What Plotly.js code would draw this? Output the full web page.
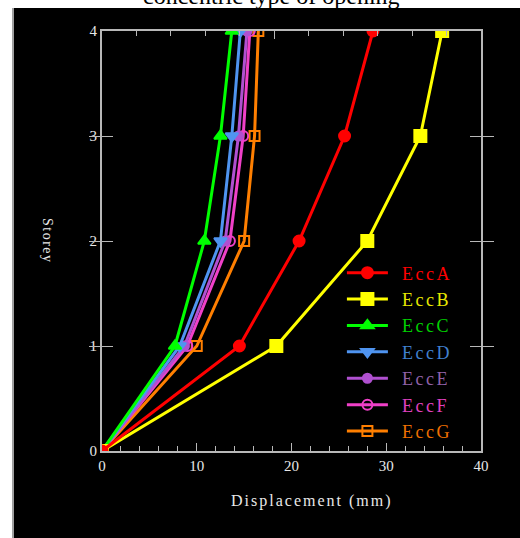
<!DOCTYPE html>
<html><head><meta charset="utf-8">
<script src="https://cdn.plot.ly/plotly-3.0.1.min.js"></script>
<style>html,body{margin:0;padding:0;background:#fff}</style>
</head><body><div id="chart" style="width:520px;height:538px"></div>
<script>
const storey = [0, 1, 2, 3, 4];
const names = ["EccA", "EccB", "EccC", "EccD", "EccE", "EccF", "EccG"];
const eccA = [0, 14.5, 20.8, 25.6, 28.6];
const eccB = [0, 18.4, 28.0, 33.6, 35.9];
const eccC = [0, 7.7, 10.8, 12.5, 13.7];
const eccD = [0, 8.2, 12.5, 13.7, 14.6];
const eccE = [0, 8.7, 13.0, 14.4, 15.3];
const eccF = [0, 9.0, 13.5, 14.9, 15.6];
const eccG = [0, 10.0, 15.0, 16.1, 16.5];
const xTicks = [0, 10, 20, 30, 40];
const yTicks = [0, 1, 2, 3, 4];

const series = [eccA, eccB, eccC, eccD, eccE, eccF, eccG];
const lineColors = ["#ff0000", "#ffff00", "#00ff00", "#4f94f0", "#b050d0", "#f040c8", "#ff7f00"];
const textColors = ["#ff0000", "#e8e800", "#00d000", "#4080d0", "#9060a8", "#e040c0", "#f07000"];
const symbols = ["circle", "square", "triangle-up", "triangle-down", "circle", "circle-open", "square-open"];
const sizes = [11, 12, 11, 11, 9, 10, 10];

const traces = [];
for (let i = series.length - 1; i >= 0; i--) {
  traces.push({
    x: series[i], y: storey, type: "scatter", mode: "lines+markers",
    name: '&nbsp;&nbsp;<span style="color:' + textColors[i] + ';letter-spacing:2.5px">' + names[i] + '</span>',
    line: {color: lineColors[i], width: 3},
    marker: {symbol: symbols[i], size: sizes[i], color: lineColors[i], line: {color: lineColors[i], width: 2}}
  });
}

const axisGray = "#b8b8b8";
const layout = {
  width: 520, height: 538,
  margin: {l: 102, r: 39, t: 31, b: 87},
  paper_bgcolor: "#ffffff", plot_bgcolor: "#000000",
  showlegend: true,
  legend: {x: 0.633, y: 0.468, xanchor: "left", yanchor: "top", traceorder: "reversed",
    bgcolor: "rgba(0,0,0,0)", font: {family: "Liberation Serif", size: 18}, itemwidth: 41},
  xaxis: {range: [0, 40], tickvals: xTicks, ticktext: xTicks.map(String), ticks: "inside", ticklen: 8,
    tickcolor: axisGray, showline: true, linecolor: axisGray, linewidth: 2, showgrid: false, zeroline: false,
    minor: {dtick: 2, ticks: "inside", ticklen: 5, tickcolor: axisGray, showgrid: false},
    tickfont: {family: "Liberation Serif", size: 15, color: "#e8e8e8"}},
  xaxis2: {range: [0, 11], overlaying: "x", side: "top", tickvals: [5], ticks: "inside", ticklen: 8,
    tickcolor: axisGray, showline: true, linecolor: axisGray, linewidth: 2, showticklabels: false, showgrid: false, zeroline: false,
    minor: {tickvals: [1, 2, 3, 4, 6, 7, 8, 9, 10], ticks: "inside", ticklen: 5, tickcolor: axisGray, showgrid: false}},
  yaxis: {range: [0, 4], tickvals: yTicks, ticktext: yTicks.map(String), ticks: "inside", ticklen: 11,
    tickcolor: axisGray, showline: true, linecolor: axisGray, linewidth: 2, mirror: "allticks", showgrid: false, zeroline: false,
    tickfont: {family: "Liberation Serif", size: 15, color: "#e8e8e8"}},
  shapes: [
    {type: "rect", xref: "paper", yref: "paper", x0: -89/379, x1: 1.2, y0: -0.3, y1: 1 + 23/420,
      fillcolor: "#000000", line: {width: 0}, layer: "below"},
    {type: "line", xref: "paper", yref: "paper", x0: -89/379, x1: -89/379, y0: -0.3, y1: 1 + 23/420,
      line: {color: "#a0a0a0", width: 2}, layer: "below"}
  ],
  annotations: [
    {text: "concentric type of opening", xref: "paper", yref: "paper", x: (271-102)/379, y: 1 + 20/420,
      xanchor: "center", yanchor: "bottom", showarrow: false,
      font: {family: "Liberation Serif", size: 24, color: "#000000"}},
    {text: '<span style="letter-spacing:2px">Displacement (mm)</span>', xref: "paper", yref: "paper", x: (312-102)/379, y: -(501-451)/420,
      xanchor: "center", yanchor: "middle", showarrow: false,
      font: {family: "Liberation Serif", size: 16, color: "#e8e8e8"}},
    {text: '<span style="letter-spacing:1.5px">Storey</span>', xref: "paper", yref: "paper", x: (48-102)/379, y: (451-241)/420, textangle: 90,
      xanchor: "center", yanchor: "middle", showarrow: false,
      font: {family: "Liberation Serif", size: 14, color: "#e8e8e8"}}
  ]
};
traces.push({x: [0], y: [0], xaxis: "x2", mode: "markers", marker: {opacity: 0}, showlegend: false, hoverinfo: "skip"});
Plotly.newPlot("chart", traces, layout, {displayModeBar: false, staticPlot: true});
</script></body></html>
